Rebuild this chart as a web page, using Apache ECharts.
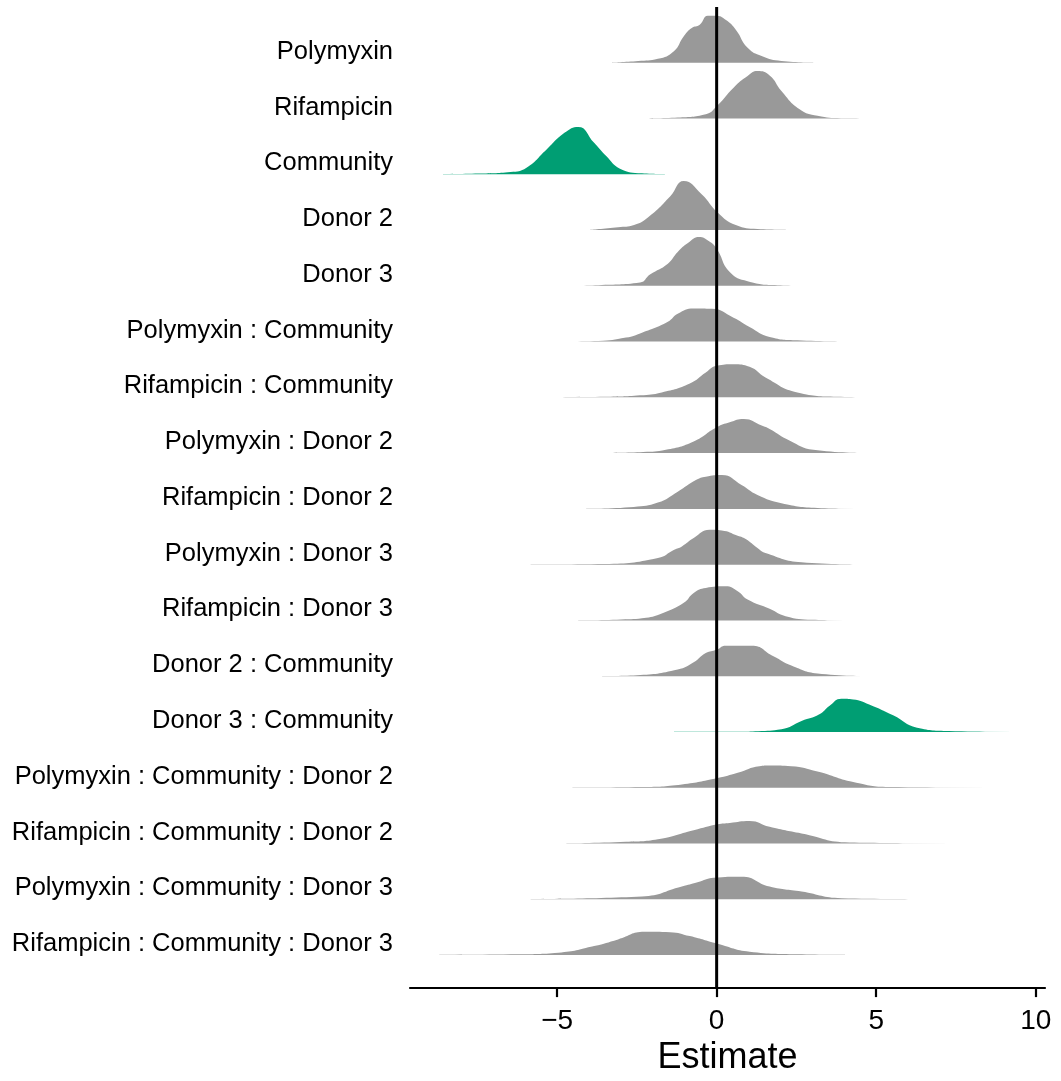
<!DOCTYPE html>
<html>
<head>
<meta charset="utf-8">
<title>Estimate ridgelines</title>
<script src="https://cdn.jsdelivr.net/npm/echarts@6/dist/echarts.min.js"></script>
<style>
  html, body { margin: 0; padding: 0; background: #ffffff; }
  #chart { width: 1061px; height: 1081px; }
</style>
</head>
<body>
<div id="chart"></div>
<script>
// Model terms, listed top to bottom
const terms = [
  'Polymyxin',
  'Rifampicin',
  'Community',
  'Donor 2',
  'Donor 3',
  'Polymyxin : Community',
  'Rifampicin : Community',
  'Polymyxin : Donor 2',
  'Rifampicin : Donor 2',
  'Polymyxin : Donor 3',
  'Rifampicin : Donor 3',
  'Donor 2 : Community',
  'Donor 3 : Community',
  'Polymyxin : Community : Donor 2',
  'Rifampicin : Community : Donor 2',
  'Polymyxin : Community : Donor 3',
  'Rifampicin : Community : Donor 3'
];

// Terms whose posterior clearly excludes zero
const highlighted = ['Community', 'Donor 3 : Community'];

// Posterior density of each estimate: [estimate, density]
const polymyxin = [[-3.28,0.001],[-2.46,0.017],[-1.84,0.04],[-1.34,0.117],[-1.03,0.267],[-0.78,0.35],[-0.53,0.383],[-0.28,0.473],[-0.03,0.473],[0.28,0.433],[0.6,0.333],[0.97,0.15],[1.41,0.067],[2.03,0.017],[3.03,0.001]];
const rifampicin = [[-2.21,0.001],[-1.22,0.01],[-0.34,0.043],[0.03,0.133],[0.53,0.31],[0.97,0.427],[1.28,0.477],[1.66,0.433],[2.03,0.277],[2.6,0.093],[3.16,0.027],[3.9,0.003],[5.2,0.001]];
const community = [[-8.58,0.001],[-7.46,0.007],[-6.46,0.023],[-5.96,0.067],[-5.33,0.25],[-4.77,0.417],[-4.34,0.477],[-3.84,0.317],[-3.46,0.183],[-3.03,0.057],[-2.34,0.01],[-1.53,0.001]];
const donor2 = [[-3.96,0.001],[-3.09,0.027],[-2.59,0.05],[-2.09,0.143],[-1.46,0.337],[-1.03,0.493],[-0.47,0.36],[0.03,0.177],[0.6,0.05],[1.28,0.01],[2.28,0.001]];
const donor3 = [[-4.71,0.001],[-3.71,0.007],[-2.4,0.033],[-2.09,0.113],[-1.53,0.223],[-1.22,0.34],[-0.9,0.43],[-0.55,0.49],[-0.25,0.45],[0,0.373],[0.41,0.14],[0.97,0.047],[1.91,0.007],[2.84,0.001]];
const polyCom = [[-5.15,0.001],[-3.7,0.007],[-2.84,0.04],[-2.34,0.09],[-1.53,0.2],[-1.22,0.28],[-0.72,0.333],[-0.15,0.33],[0.53,0.24],[1.03,0.147],[1.66,0.047],[2.53,0.013],[4.09,0.001]];
const rifCom = [[-5.15,0.001],[-3.5,0.005],[-2.4,0.02],[-1.72,0.05],[-0.84,0.14],[-0.34,0.25],[0,0.317],[0.53,0.333],[1.03,0.307],[1.53,0.2],[2.53,0.05],[3.78,0.007],[5.03,0.001]];
const polyD2 = [[-3.34,0.001],[-2.3,0.01],[-1.59,0.033],[-0.72,0.117],[0,0.26],[0.41,0.31],[0.85,0.343],[1.41,0.277],[1.66,0.243],[2.28,0.127],[3.03,0.033],[4.53,0.001]];
const rifD2 = [[-4.09,0.001],[-2.6,0.02],[-1.84,0.063],[-1.22,0.173],[-0.65,0.29],[-0.34,0.323],[0.16,0.34],[0.78,0.24],[1.28,0.14],[2.03,0.057],[3.16,0.01],[4.41,0.001]];
const polyD3 = [[-5.83,0.001],[-3.5,0.007],[-1.84,0.067],[-1.33,0.15],[-1.09,0.183],[-0.72,0.267],[-0.22,0.35],[0.16,0.343],[0.66,0.29],[0.91,0.257],[1.28,0.167],[1.53,0.117],[2.66,0.023],[4.41,0.001]];
const rifD3 = [[-4.34,0.001],[-3.0,0.01],[-2.21,0.027],[-1.72,0.07],[-1.03,0.177],[-0.72,0.277],[-0.34,0.327],[0.28,0.343],[0.66,0.293],[0.97,0.21],[1.66,0.117],[2.16,0.043],[3.0,0.007],[4.03,0.001]];
const d2Com = [[-3.59,0.001],[-2.5,0.01],[-1.22,0.067],[-0.72,0.14],[-0.34,0.233],[0,0.267],[0.28,0.307],[1.1,0.307],[1.78,0.2],[2.34,0.107],[3.16,0.027],[4.65,0.001]];
const d3Com = [[-1.34,0.001],[0.3,0.001],[1.3,0.008],[2.03,0.027],[2.66,0.11],[3.22,0.177],[3.53,0.26],[3.91,0.333],[4.28,0.327],[4.78,0.277],[5.53,0.167],[6.28,0.043],[7.28,0.01],[9.4,0.001]];
const polyComD2 = [[-4.52,0.001],[-2.34,0.007],[-1.09,0.033],[0.03,0.097],[0.66,0.15],[1.34,0.217],[1.66,0.223],[2.34,0.217],[3.16,0.163],[4.28,0.057],[5.4,0.007],[8.65,0.001]];
const rifComD2 = [[-4.71,0.001],[-2.84,0.017],[-1.84,0.043],[-0.72,0.133],[0.03,0.193],[0.41,0.207],[1.03,0.227],[1.66,0.167],[2.66,0.1],[4.16,0.01],[7.53,0.001]];
const polyComD3 = [[-5.83,0.001],[-2.34,0.027],[-1.09,0.127],[-0.6,0.17],[-0.09,0.217],[0.78,0.227],[1.66,0.127],[2.66,0.077],[3.91,0.01],[6.2,0.001]];
const rifComD3 = [[-8.7,0.001],[-6.21,0.007],[-4.96,0.023],[-3.84,0.09],[-3.09,0.157],[-2.27,0.233],[-1.46,0.23],[-0.84,0.19],[0.03,0.113],[1.03,0.033],[2.53,0.007],[4.03,0.001]];

const densities = [polymyxin, rifampicin, community, donor2, donor3, polyCom, rifCom,
  polyD2, rifD2, polyD3, rifD3, d2Com, d3Com, polyComD2, rifComD2, polyComD3, rifComD3];

// Axis settings
const xTicks = [-5, 0, 5, 10];
const xMin = -9.61, xMax = 10.29;
const yMin = 0.4064, yMax = 18.0;
const ridgeScale = 1.7825;   // density -> row units

const FONT = 'Liberation Sans, Arial, Helvetica, sans-serif';
const GREY = '#999999';
const GREEN = '#009E73';

const nRows = terms.length;
const rowValues = terms.map((t, i) => nRows - i);   // top term on highest row

const ridgeSeries = terms.map((term, i) => {
  const base = rowValues[i];
  const fill = highlighted.includes(term) ? GREEN : GREY;
  return {
    name: term,
    type: 'line',
    data: densities[i].map(p => [p[0], base + p[1] * ridgeScale]),
    smooth: 0.5,
    symbol: 'none',
    showSymbol: false,
    silent: true,
    lineStyle: { width: 0, color: fill, opacity: 0 },
    areaStyle: { color: fill, opacity: 1, origin: base },
    z: 2
  };
});

// Reference line at zero
const zeroLine = {
  type: 'line',
  data: [[0, yMin], [0, yMax]],
  symbol: 'none',
  silent: true,
  lineStyle: { color: '#000000', width: 3 },
  z: 5
};

const chart = echarts.init(document.getElementById('chart'), null, { renderer: 'canvas' });
chart.setOption({
  animation: false,
  backgroundColor: '#ffffff',
  grid: { left: 410, right: 16, top: 7, bottom: 87, containLabel: false },
  xAxis: {
    type: 'value',
    min: xMin,
    max: xMax,
    name: 'Estimate',
    nameLocation: 'middle',
    nameGap: 51,
    nameTextStyle: { fontFamily: FONT, fontSize: 36, color: '#000000' },
    axisLine: { show: true, onZero: false, lineStyle: { color: '#000000', width: 2.2 } },
    axisTick: { show: true, customValues: xTicks, length: 9, lineStyle: { color: '#000000', width: 2.2 } },
    axisLabel: {
      customValues: xTicks,
      margin: 19,
      fontFamily: FONT,
      fontSize: 28,
      color: '#000000',
      formatter: v => String(v).replace('-', '\u2212')
    },
    splitLine: { show: false }
  },
  yAxis: {
    type: 'value',
    min: yMin,
    max: yMax,
    axisLine: { show: false },
    axisTick: { show: false },
    splitLine: { show: false },
    axisLabel: {
      customValues: rowValues,
      margin: 17,
      fontFamily: FONT,
      fontSize: 25.5,
      lineHeight: 22,
      color: '#000000',
      verticalAlign: 'bottom',
      formatter: v => terms[nRows - Math.round(v)]
    }
  },
  series: ridgeSeries.concat([zeroLine])
});
</script>
</body>
</html>
